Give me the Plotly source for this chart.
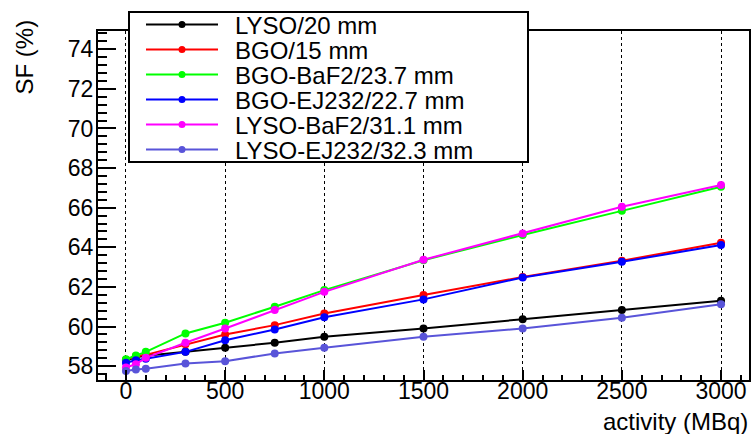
import plotly.graph_objects as go

activity = [0, 50, 100, 300, 500, 750, 1000, 1500, 2000, 2500, 3000]

series_names = ["LYSO/20 mm", "BGO/15 mm", "BGO-BaF2/23.7 mm",
                "BGO-EJ232/22.7 mm", "LYSO-BaF2/31.1 mm", "LYSO-EJ232/32.3 mm"]
series_colors = ["#000000", "#ff0000", "#00ff00", "#0000ff", "#ff00ff", "#5954d9"]

sf_lyso = [58.28, 58.45, 58.53, 58.72, 58.93, 59.18, 59.48, 59.90, 60.37, 60.83, 61.30]
sf_bgo = [58.32, 58.50, 58.57, 59.10, 59.60, 60.07, 60.66, 61.59, 62.50, 63.32, 64.23]
sf_bgo_baf2 = [58.35, 58.54, 58.72, 59.65, 60.19, 61.00, 61.84, 63.35, 64.62, 65.84, 67.06]
sf_bgo_ej232 = [58.17, 58.30, 58.37, 58.72, 59.31, 59.85, 60.47, 61.37, 62.48, 63.27, 64.11]
sf_lyso_baf2 = [57.93, 58.10, 58.42, 59.18, 59.90, 60.83, 61.75, 63.37, 64.70, 66.05, 67.14]
sf_lyso_ej232 = [57.75, 57.83, 57.87, 58.13, 58.25, 58.64, 58.93, 59.48, 59.90, 60.44, 61.13]

series_values = [sf_lyso, sf_bgo, sf_bgo_baf2, sf_bgo_ej232, sf_lyso_baf2, sf_lyso_ej232]

x_title = "activity (MBq)"
y_title = "SF (%)"

W, H = 752, 434
L, R, T, B = 98, 749, 31, 380   # plot area in pixels
FONT = "Liberation Sans, Arial, Helvetica, sans-serif"
FS = 23
FS_TXT = 24


def px(x):
    return (x - L) / (R - L)


def py(y):
    return (B - y) / (B - T)


fig = go.Figure()
for name, col, vals in zip(series_names, series_colors, series_values):
    fig.add_trace(go.Scatter(
        x=activity, y=vals, name=name, mode="lines+markers",
        line=dict(color=col, width=2),
        marker=dict(color=col, size=8, line=dict(width=0)),
        showlegend=False, cliponaxis=False,
    ))

shapes = []
annotations = []
# legend box
shapes.append(dict(type="rect", xref="paper", yref="paper",
                   x0=px(129), x1=px(528), y0=py(162), y1=py(12),
                   fillcolor="white", line=dict(color="black", width=2),
                   layer="above"))
for i, (name, col) in enumerate(zip(series_names, series_colors)):
    yc = 24.5 + 25 * i
    shapes.append(dict(type="line", xref="paper", yref="paper",
                       x0=px(146), x1=px(218), y0=py(yc), y1=py(yc),
                       line=dict(color=col, width=2), layer="above"))
    shapes.append(dict(type="circle", xref="paper", yref="paper",
                       x0=px(178.5), x1=px(185.5), y0=py(yc + 3.5), y1=py(yc - 3.5),
                       fillcolor=col, line=dict(color=col, width=0), layer="above"))
    annotations.append(dict(text=name, xref="paper", yref="paper",
                            x=px(233), y=py(yc + 1), xanchor="left", yanchor="middle",
                            showarrow=False, font=dict(family=FONT, size=FS_TXT, color="black")))

annotations.append(dict(text=x_title, xref="paper", yref="paper",
                        x=px(750), y=py(421), xanchor="right", yanchor="middle",
                        showarrow=False, font=dict(family=FONT, size=FS_TXT, color="black")))
annotations.append(dict(text=y_title, xref="paper", yref="paper",
                        x=px(24), y=py(18), xanchor="center", yanchor="top",
                        textangle=-90, showarrow=False,
                        font=dict(family=FONT, size=FS_TXT, color="black")))

fig.update_layout(
    width=W, height=H,
    margin=dict(l=L, r=W - R, t=T, b=H - B, pad=0, autoexpand=False),
    paper_bgcolor="white", plot_bgcolor="white",
    font=dict(family=FONT, size=FS, color="black"),
    shapes=shapes, annotations=annotations,
    showlegend=False,
)
fig.update_xaxes(
    range=[-141, 3141], dtick=500, tick0=0, automargin=False,
    showline=True, linecolor="black", linewidth=2, mirror=True,
    ticks="inside", ticklen=10, tickwidth=2, tickcolor="black",
    minor=dict(ticks="inside", dtick=100, ticklen=5, tickwidth=2, tickcolor="black"),
    showgrid=True, gridcolor="black", gridwidth=1, griddash="dot",
    zeroline=False, tickfont=dict(family=FONT, size=FS), ticklabelstandoff=-11,
)
fig.update_yaxes(
    range=[57.3, 74.92], dtick=2, tick0=0, automargin=False,
    showline=True, linecolor="black", linewidth=2, mirror=True,
    ticks="inside", ticklen=18, tickwidth=2, tickcolor="black",
    minor=dict(ticks="inside", dtick=0.4, ticklen=9, tickwidth=2, tickcolor="black"),
    showgrid=False, zeroline=False, tickfont=dict(family=FONT, size=FS), ticklabelstandoff=-2,
)

fig.write_html(
    "out.html",
    config={"displayModeBar": False},
    post_script="document.body.style.margin='0';document.body.style.overflow='hidden';",
)
